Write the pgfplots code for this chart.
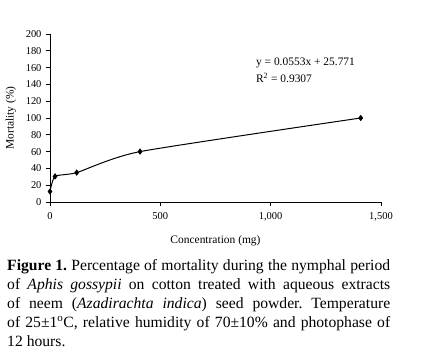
\documentclass[border=0pt]{standalone}
\usepackage{pgfplots}
\pgfplotsset{compat=1.18}
\usepackage{fontspec}
\setmainfont{Liberation Serif}
\frenchspacing
\begin{document}
\begin{tikzpicture}[x=1bp,y=1bp]
\path[use as bounding box] (0,0) rectangle (424,354);
\begin{axis}[
  at={(50bp,152bp)}, anchor=origin,
  scale only axis, width=331bp, height=168bp,
  xmin=0, xmax=1500, ymin=0, ymax=200,
  axis lines=left, axis line style={-, line width=0.9pt},
  xtick={0,500,1000,1500}, xticklabels={0,500,{1,000},{1,500}},
  ytick={0,20,...,200},
  tick align=outside, tick style={line width=0.8pt, black},
  major tick length=4bp,
  tick label style={font=\fontsize{10.5}{11}\selectfont},
  /pgf/number format/assume math mode=true,
  xticklabel style={yshift=-3bp},
  yticklabel style={xshift=-1bp},
  ylabel={Mortality (\%)}, xlabel={Concentration (mg)},
  label style={font=\fontsize{11.5}{12}\selectfont},
  ylabel style={at={(axis description cs:-0.118,0.5)}, anchor=center},
  xlabel style={at={(axis description cs:0.5,-0.232)}, anchor=center},
  clip=false,
]
\addplot[black, line width=1pt, smooth, tension=0.35, mark=diamond*, mark size=2.4bp]
  coordinates {(0,12.5) (23,30.5) (121,35) (408,60) (1408,100)};
\node[anchor=west, font=\fontsize{11.5}{12}\selectfont] at (axis cs:918,165.5) {y = 0.0553x + 25.771};
\node[anchor=west, font=\fontsize{11.5}{12}\selectfont] at (axis cs:918,147.5) {R\textsuperscript{2} = 0.9307};
\end{axis}
\begin{scope}[every node/.style={anchor=base west, inner sep=0pt, font=\fontsize{15.7}{19}\selectfont}]
\node at (7,84) {\makebox[383bp][s]{\textbf{Figure 1.} Percentage of mortality during the nymphal period}};
\node at (7,65) {\makebox[383bp][s]{of \textit{Aphis gossypii} on cotton treated with aqueous extracts}};
\node at (7,46) {\makebox[383bp][s]{of neem (\textit{Azadirachta indica}) seed powder. Temperature}};
\node at (7,27) {\makebox[383bp][s]{of 25±1\textsuperscript{o}C, relative humidity of 70±10\% and photophase of}};
\node at (7,8) {12 hours.};
\end{scope}
\end{tikzpicture}
\end{document}
